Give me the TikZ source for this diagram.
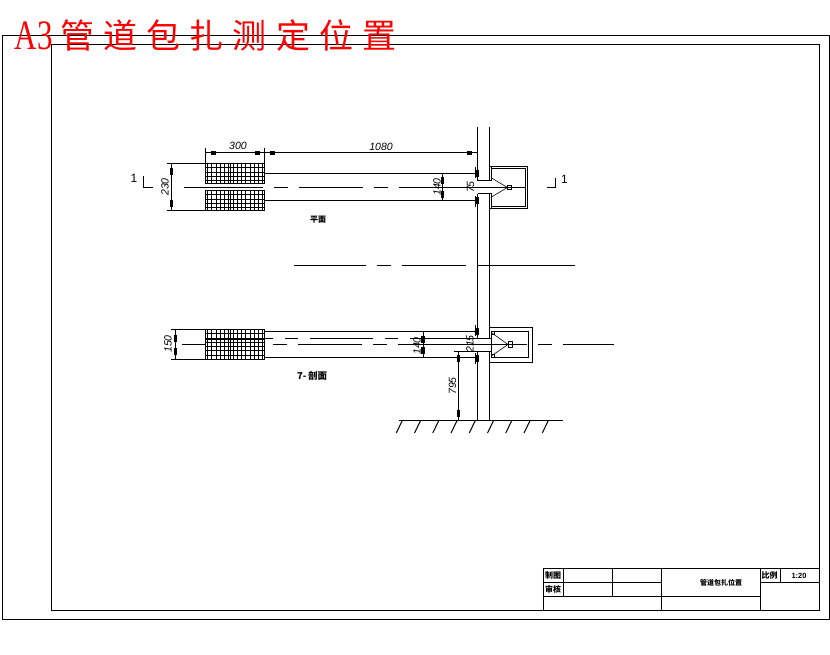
\documentclass[tikz,border=0pt]{standalone}
\usepackage{fontspec}
\setmainfont{Liberation Sans}
\newfontfamily\cjk{Noto Sans CJK SC}
\newfontfamily\cjktitle[LetterSpace=27]{Noto Sans CJK SC}
\newfontfamily\serifA{Liberation Serif}
\definecolor{titlered}{RGB}{255,0,0}
\tikzset{
  ln/.style={line width=1pt,black},
  thin ln/.style={line width=0.6pt,black},
  dimtext/.style={font=\fontsize{10.5}{10.5}\selectfont\itshape,inner sep=0pt},
  dimtextv/.style={dimtext,rotate=90},
  smallcjk/.style={font=\cjk\fontsize{8}{8}\selectfont\bfseries,inner sep=0pt},
  mark text/.style={font=\fontsize{12}{12}\selectfont,inner sep=0pt},
}
\newcommand{\blobh}[2]{\fill[black] (#1-2.5,#2-2) rectangle (#1+2.5,#2+2);}
\newcommand{\blobv}[2]{\fill[black] (#1-1.8,#2-3.5) rectangle (#1+1.8,#2+3.5);}
\newcommand{\gridblock}[4]{% x0 y0 x1 y1
  \begin{scope}
    \clip (#1,#2) rectangle (#3,#4);
    \foreach \xx in {0,1,...,14} {\draw[thin ln] ({#1+2+4*\xx+0.25*\xx},#2) -- ({#1+2+4*\xx+0.25*\xx},#4);}
    \foreach \yy in {0,1,...,8} {\draw[thin ln] (#1,{#2+4*\yy+0.25*\yy}) -- (#3,{#2+4*\yy+0.25*\yy});}
  \end{scope}
  \draw[ln] (#1,#2) rectangle (#3,#4);
  \draw[line width=1.5pt] (#1,#2) -- (#1,#4);
  \draw[ln] ({(#1+#3)/2-4.5},#2) -- ({(#1+#3)/2-4.5},#4);
}
\begin{document}
\begin{tikzpicture}[x=1pt,y=-1pt]
\useasboundingbox[fill=white] (0,0) rectangle (830,654);
% sheet frames
\draw[ln] (2.5,35.5) rectangle (829.5,619.5);
\draw[ln] (51.5,44.5) rectangle (819.5,610.5);
% title block
\draw[ln] (543.5,568.5) rectangle (819.5,610.5);
\draw[ln] (543.5,582.5) -- (661.5,582.5);
\draw[ln] (543.5,596.5) -- (760.5,596.5);
\draw[ln] (563.5,568.5) -- (563.5,596.5);
\draw[ln] (612.5,568.5) -- (612.5,596.5);
\draw[ln] (661.5,568.5) -- (661.5,610.5);
\draw[ln] (760.5,568.5) -- (760.5,610.5);
\draw[ln] (780.5,568.5) -- (780.5,582.5);
\draw[ln] (760.5,582.5) -- (819.5,582.5);
\node[smallcjk] (tb1) at (553,575.5) {制图};
\node[smallcjk] (tb2) at (553,589.5) {审核};
\node[smallcjk,font=\cjk\fontsize{7}{7}\selectfont\bfseries] (tb3) at (721,583) {管道包扎位置};
\node[smallcjk] (tb4) at (769.5,575.5) {比例};
\node[font=\fontsize{7.5}{7.5}\selectfont\bfseries,inner sep=0pt] (tb5) at (799,575.5) {1:20};
% title
\node[anchor=west,inner sep=0pt,text=titlered,font=\serifA\fontsize{31}{31}\selectfont,yscale=1.35] (tA) at (14.5,36) {A3};
\node[anchor=west,inner sep=0pt,text=titlered,font=\cjktitle\fontsize{34}{34}\selectfont] (tB) at (60,36) {管道包扎测定位置};
% main pipe (open where the branches join it)
\draw[ln] (477.5,127) -- (477.5,180.5);
\draw[ln] (489.5,127) -- (489.5,180.5);
\draw[ln] (477.5,193.5) -- (477.5,338.5);
\draw[ln] (489.5,193.5) -- (489.5,338.5);
\draw[ln] (477.5,351.5) -- (477.5,420.5);
\draw[ln] (489.5,351.5) -- (489.5,420.5);
% ---------- plan view
\gridblock{205.5}{163.5}{264.5}{183.5}
\gridblock{205.5}{190.5}{264.5}{210.5}
\draw[ln] (205.5,148) -- (205.5,163.5);
\draw[ln] (264.5,148) -- (264.5,163.5);
\draw[ln] (205.5,152.5) -- (477.5,152.5);
\blobh{213.5}{152.5} \blobh{257}{152.5} \blobh{272}{152.5} \blobh{469}{152.5}
\node[dimtext] (d300) at (238,146) {300};
\node[dimtext] (d1080) at (381,147) {1080};
\draw[ln] (167,163.5) -- (205.5,163.5);
\draw[ln] (167,210.5) -- (205.5,210.5);
\draw[ln] (171.5,163.5) -- (171.5,210.5);
\blobv{171.5}{171} \blobv{171.5}{203}
\node[dimtextv] (d230) at (165,187) {230};
\draw[ln] (264.5,173.5) -- (477.5,173.5);
\draw[ln] (264.5,200.5) -- (477.5,200.5);
\foreach \a/\b in {184/263,274/288,299/363,374/388,399/525} {\draw[ln] (\a,187.5) -- (\b,187.5);}
\node[mark text] (m1) at (134,178) {1};
\draw[ln] (143.5,176) -- (143.5,187.5) -- (153,187.5);
\draw[ln] (555.5,178) -- (555.5,187.5) -- (547,187.5);
\node[mark text] (m2) at (564.5,179) {1};
\draw[ln] (489.5,166.5) -- (527.5,166.5) -- (527.5,208.5) -- (489.5,208.5);
\draw[ln] (491.5,168.5) -- (526,168.5);
\draw[ln] (491.5,206.5) -- (526,206.5);
\draw[ln] (491.5,166.5) -- (491.5,180.5);
\draw[ln] (491.5,193.5) -- (491.5,208.5);
\draw[ln] (525.5,168.5) -- (525.5,206.5);
\draw[ln] (477.5,180.5) -- (491.5,180.5);
\draw[ln] (477.5,193.5) -- (491.5,193.5);
\draw[thin ln] (491.5,178) -- (507.5,187.5) -- (491.5,197);
\draw[ln] (507.5,185.5) rectangle (511.5,189.5);
\draw[ln] (442.5,173.5) -- (442.5,200.5);
\blobv{442.5}{180} \blobv{442.5}{194}
\node[dimtextv] (d140a) at (437,187) {140};
\node[dimtextv] (d75) at (470.5,187) {75};
\blobv{477.5}{173.5} \blobv{477.5}{200.5}
\draw[thin ln] (475.5,167) -- (475.5,178);
\draw[thin ln] (475.5,196) -- (475.5,207);
\node[smallcjk] (planl) at (318,220) {平面};
% centre line between views
\foreach \a/\b in {294/366,377/391,402/466,478/575} {\draw[ln] (\a,265.5) -- (\b,265.5);}
% ---------- section view
\gridblock{205.5}{329.5}{264.5}{359.5}
\draw[line width=1.5pt] (205.5,339.5) -- (264.5,339.5);
\draw[ln] (171,329.5) -- (205.5,329.5);
\draw[ln] (171,359.5) -- (205.5,359.5);
\draw[ln] (175.5,329.5) -- (175.5,359.5);
\blobv{175.5}{338} \blobv{175.5}{351}
\node[dimtextv] (d150) at (168,344) {150};
\draw[ln] (182,344.5) -- (205.5,344.5);
\draw[ln] (264.5,331.5) -- (477.5,331.5);
\draw[ln] (264.5,357.5) -- (477.5,357.5);
\foreach \a/\b in {265/273,285/298,310/373,385/398} {\draw[ln] (\a,338.5) -- (\b,338.5);}
\foreach \a/\b in {273/287,298/362,373/387,398/527} {\draw[ln] (\a,344.5) -- (\b,344.5);}
\draw[ln] (410,338.5) -- (491.5,338.5);
\draw[ln] (454,351.5) -- (491.5,351.5);
\draw[ln] (489.5,327.5) -- (532.5,327.5) -- (532.5,362.5) -- (489.5,362.5);
\draw[ln] (491.5,331.5) rectangle (528.5,357.5);
\draw[thin ln] (492,333) -- (508,344.5) -- (492,355.5);
\draw[ln] (508.5,341.5) rectangle (512.5,347.5);
\draw[thin ln] (491.7,331.5) rectangle (494,334.5);
\draw[thin ln] (491.7,354) rectangle (494,357);
\foreach \a/\b in {538/552,563/614} {\draw[ln] (\a,344.5) -- (\b,344.5);}
\draw[ln] (423.5,331.5) -- (423.5,357.5);
\blobv{423}{339.5} \blobv{423}{350}
\node[dimtextv] (d140b) at (417,346) {140};
\node[dimtextv] (d215) at (470,344) {215};
\blobv{477.5}{331} \blobv{477.5}{358.5}
\draw[thin ln] (475.5,325) -- (475.5,336);
\draw[thin ln] (475.5,353) -- (475.5,364);
\draw[ln] (458.5,351.5) -- (458.5,420.5);
\blobv{458.5}{358} \blobv{458.5}{413}
\node[dimtextv] (d795) at (452.5,386) {795};
\node[smallcjk,anchor=west,font=\cjk\fontsize{9.5}{9.5}\selectfont\bfseries] (secl) at (297,376) {\textit{7}-\,剖面};
% ground
\draw[ln] (399,420.5) -- (563,420.5);
\foreach \i in {0,...,8} {\draw[ln] ({402.3+18.25*\i},420.5) -- ({396.3+18.25*\i},433);}
\end{tikzpicture}
\end{document}
